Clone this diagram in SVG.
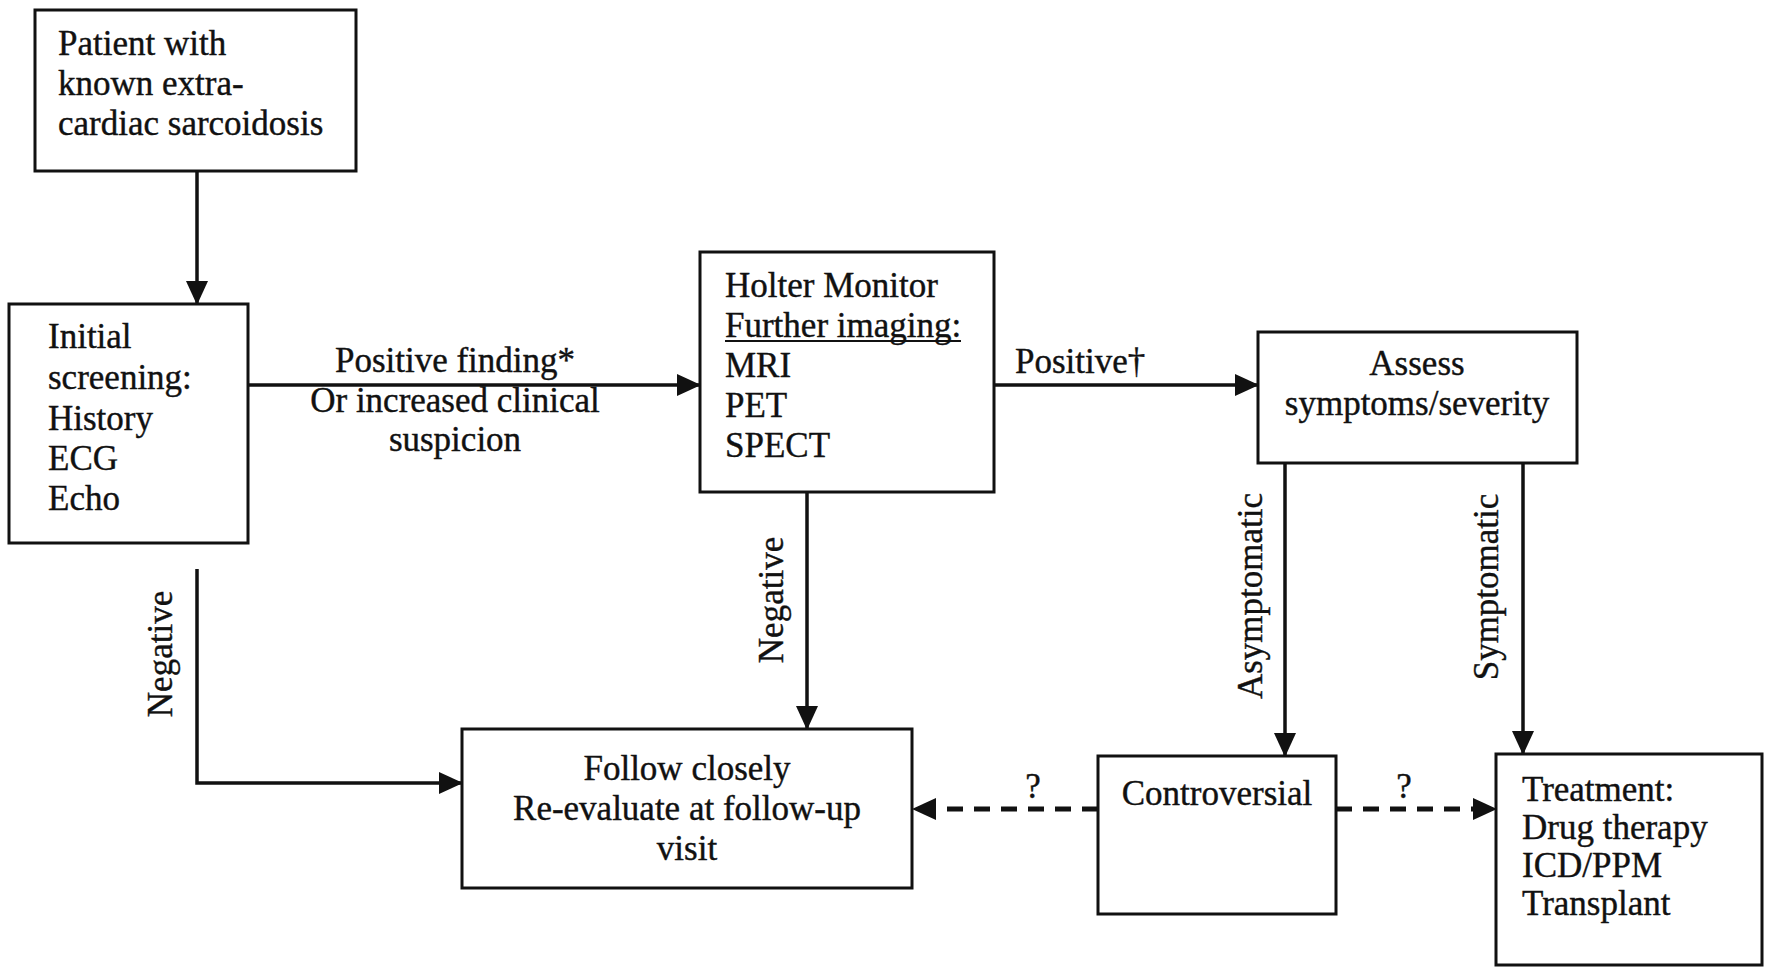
<svg xmlns="http://www.w3.org/2000/svg" width="1765" height="967" viewBox="0 0 1765 967">
<style>
.box{fill:#fff;stroke:#111;stroke-width:3}
.t{font-family:"Liberation Serif","Times New Roman",serif;font-size:35px;fill:#111;stroke:#111;stroke-width:0.4}
.c{text-anchor:middle}
.ln{fill:none;stroke:#111;stroke-width:3.5}
.dash{fill:none;stroke:#111;stroke-width:5;stroke-dasharray:16 11}
</style>
<defs>
<marker id="ah" markerUnits="userSpaceOnUse" markerWidth="24" markerHeight="22" refX="23" refY="11" orient="auto">
<path d="M0,0 L24,11 L0,22 z" fill="#111"/>
</marker>
</defs>
<rect width="1765" height="967" fill="#fff"/>
<g id="connectors">
<line class="ln" x1="197" y1="171" x2="197" y2="304" marker-end="url(#ah)"/>
<line class="ln" x1="248" y1="385" x2="700" y2="385" marker-end="url(#ah)"/>
<line class="ln" x1="994" y1="385" x2="1258" y2="385" marker-end="url(#ah)"/>
<line class="ln" x1="1285" y1="463" x2="1285" y2="756" marker-end="url(#ah)"/>
<line class="ln" x1="1523" y1="463" x2="1523" y2="754" marker-end="url(#ah)"/>
<line class="ln" x1="807" y1="492" x2="807" y2="729" marker-end="url(#ah)"/>
<path class="ln" d="M197,569 V783 H462" marker-end="url(#ah)"/>
<line class="dash" x1="1098" y1="809" x2="913" y2="809" marker-end="url(#ah)"/>
<line class="dash" x1="1336" y1="809" x2="1496" y2="809" marker-end="url(#ah)"/>
<text class="t c" x="455" y="372">Positive finding*</text>
<text class="t c" x="455" y="412">Or increased clinical</text>
<text class="t c" x="455" y="451">suspicion</text>
<text class="t" x="1015" y="373">Positive†</text>
<text class="t c" transform="translate(172,654) rotate(-90)">Negative</text>
<text class="t c" transform="translate(783,600) rotate(-90)">Negative</text>
<text class="t c" transform="translate(1262,596) rotate(-90)">Asymptomatic</text>
<text class="t c" transform="translate(1498,587) rotate(-90)">Symptomatic</text>
<text class="t c" x="1033" y="798">?</text>
<text class="t c" x="1404" y="798">?</text>
</g>
<g id="patient">
<rect class="box" x="35" y="10" width="321" height="161"/>
<text class="t" x="58" y="55">Patient with</text>
<text class="t" x="58" y="95">known extra-</text>
<text class="t" x="58" y="135">cardiac sarcoidosis</text>
</g>
<g id="screening">
<rect class="box" x="9" y="304" width="239" height="239"/>
<text class="t" x="48" y="348">Initial</text>
<text class="t" x="48" y="389">screening:</text>
<text class="t" x="48" y="430">History</text>
<text class="t" x="48" y="470">ECG</text>
<text class="t" x="48" y="510">Echo</text>
</g>
<g id="holter">
<rect class="box" x="700" y="252" width="294" height="240"/>
<text class="t" x="725" y="297">Holter Monitor</text>
<text class="t" x="725" y="337">Further imaging:</text>
<line x1="725" y1="341" x2="961" y2="341" stroke="#111" stroke-width="2"/>
<text class="t" x="725" y="377">MRI</text>
<text class="t" x="725" y="417">PET</text>
<text class="t" x="725" y="457">SPECT</text>
</g>
<g id="assess">
<rect class="box" x="1258" y="332" width="319" height="131"/>
<text class="t c" x="1417" y="375">Assess</text>
<text class="t c" x="1417" y="415">symptoms/severity</text>
</g>
<g id="follow">
<rect class="box" x="462" y="729" width="450" height="159"/>
<text class="t c" x="687" y="780">Follow closely</text>
<text class="t c" x="687" y="820">Re-evaluate at follow-up</text>
<text class="t c" x="687" y="860">visit</text>
</g>
<g id="controversial">
<rect class="box" x="1098" y="756" width="238" height="158"/>
<text class="t c" x="1217" y="805">Controversial</text>
</g>
<g id="treatment">
<rect class="box" x="1496" y="754" width="266" height="211"/>
<text class="t" x="1522" y="801">Treatment:</text>
<text class="t" x="1522" y="839">Drug therapy</text>
<text class="t" x="1522" y="877">ICD/PPM</text>
<text class="t" x="1522" y="915">Transplant</text>
</g>
</svg>
